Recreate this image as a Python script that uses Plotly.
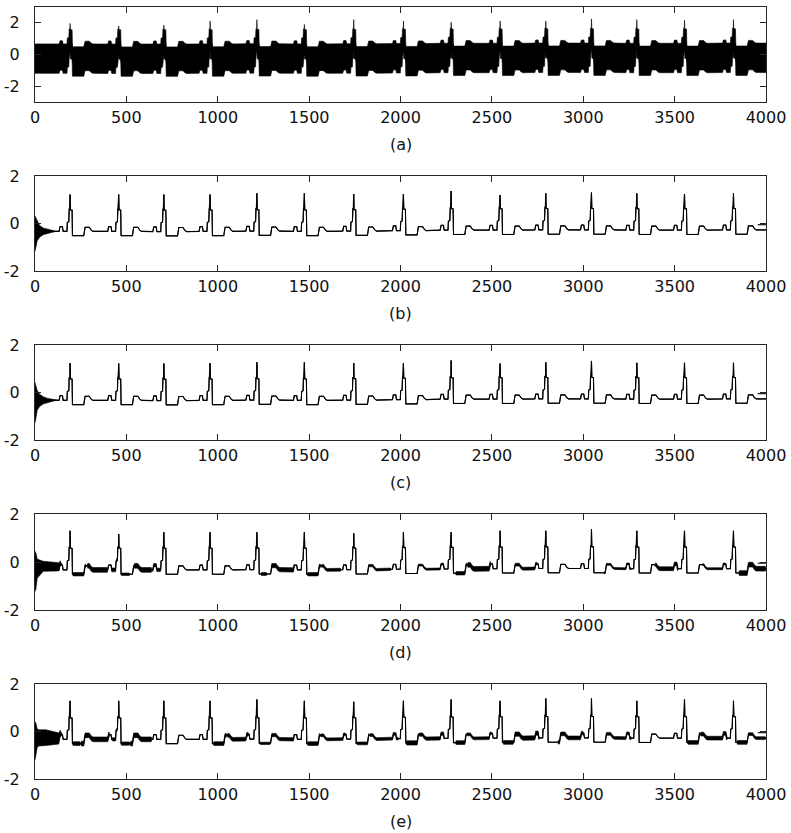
import numpy as np
import plotly.graph_objects as go

# ---------------- data ----------------
x_ticks = [0, 500, 1000, 1500, 2000, 2500, 3000, 3500, 4000]
y_ticks = [-2, 0, 2]
y_tick_text = ["-2", "0", "2"]
captions = ["(a)", "(b)", "(c)", "(d)", "(e)"]

# R-peak sample positions (same beats in every panel)
r_pos = [192, 458, 705, 958, 1214, 1474, 1744, 2016, 2277, 2545, 2795, 3045, 3293, 3554, 3822]

# one-beat shape: offsets from the R peak and levels above the beat baseline
beat_off = [-60, -55, -42, -38, -17, -15, -7, -5, -1, 2, 11, 13, 75, 82, 105, 115, 125]
beat_lvl = [0.0, 0.2, 0.2, 0.0, 0.0, 0.38, 0.4, 0.95, 0.95, 0.9, 0.9, -0.18, -0.18, 0.17, 0.17, 0.05, 0.0]

# per-panel beat baselines
a_base = [-0.26, -0.27, -0.27, -0.26, -0.25, -0.26, -0.25, -0.24, -0.22, -0.22, -0.21, -0.21, -0.22, -0.22, -0.21]
b_base = [-0.33, -0.33, -0.34, -0.33, -0.32, -0.33, -0.32, -0.30, -0.28, -0.28, -0.27, -0.27, -0.28, -0.28, -0.27]
c_base = [-0.33, -0.33, -0.34, -0.33, -0.32, -0.33, -0.32, -0.30, -0.28, -0.28, -0.27, -0.27, -0.28, -0.28, -0.27]
d_base = [-0.33, -0.33, -0.33, -0.33, -0.32, -0.33, -0.32, -0.30, -0.29, -0.28, -0.27, -0.27, -0.28, -0.28, -0.28]
e_base = [-0.33, -0.33, -0.33, -0.33, -0.32, -0.33, -0.32, -0.30, -0.29, -0.28, -0.27, -0.27, -0.28, -0.28, -0.28]

# R-peak heights (panel (a): top of the noisy band)
a_top = [1.96, 1.80, 1.85, 2.12, 2.20, 1.90, 2.20, 2.12, 2.04, 2.12, 2.12, 2.25, 2.20, 2.16, 2.20]
b_R = [1.22, 1.22, 1.22, 1.22, 1.27, 1.27, 1.24, 1.24, 1.37, 1.20, 1.27, 1.30, 1.27, 1.24, 1.27]
c_R = [1.24, 1.22, 1.22, 1.24, 1.27, 1.27, 1.24, 1.24, 1.35, 1.22, 1.27, 1.33, 1.25, 1.25, 1.25]
d_R = [1.30, 1.17, 1.24, 1.24, 1.24, 1.24, 1.20, 1.24, 1.24, 1.30, 1.30, 1.36, 1.30, 1.30, 1.30]
e_R = [1.29, 1.29, 1.29, 1.29, 1.35, 1.29, 1.25, 1.29, 1.35, 1.29, 1.39, 1.39, 1.29, 1.35, 1.29]

# half-width of the dense noise band in (a)
a_noise = 0.93

# start-up transients: sample, upper and lower spread
b_tr_x = [0, 4, 12, 25, 45, 70, 100, 115]
b_tr_up = [0.65, 0.58, 0.40, 0.25, 0.14, 0.08, 0.03, 0.0]
b_tr_dn = [0.85, 0.70, 0.40, 0.25, 0.14, 0.08, 0.03, 0.0]
c_tr_x = [0, 4, 12, 25, 45, 70, 100, 115]
c_tr_up = [0.75, 0.65, 0.42, 0.26, 0.15, 0.08, 0.03, 0.0]
c_tr_dn = [0.95, 0.80, 0.42, 0.26, 0.15, 0.08, 0.03, 0.0]
d_tr_x = [0, 5, 12, 20, 45, 130, 148]
d_tr_up = [0.78, 0.70, 0.45, 0.42, 0.36, 0.30, 0.0]
d_tr_dn = [0.90, 0.80, 0.35, 0.26, 0.06, 0.04, 0.0]
e_tr_x = [0, 5, 12, 20, 60, 130, 148]
e_tr_up = [0.75, 0.68, 0.45, 0.40, 0.40, 0.30, 0.0]
e_tr_dn = [0.88, 0.80, 0.35, 0.28, 0.26, 0.20, 0.0]

# residual-noise stretches in (d) and (e): start, end, half-width
d_noise = [(205, 280, 0.07), (285, 400, 0.10), (415, 450, 0.08), (470, 520, 0.05),
           (540, 640, 0.10), (640, 690, 0.07), (1235, 1270, 0.06), (1290, 1420, 0.09),
           (1490, 1565, 0.07), (1565, 1675, 0.06), (1820, 1950, 0.05), (2090, 2240, 0.04),
           (2300, 2365, 0.07), (2365, 2495, 0.10), (2625, 2750, 0.06), (3110, 3265, 0.04),
           (3390, 3520, 0.08), (3650, 3780, 0.04), (3850, 4000, 0.10)]
e_noise = [(205, 250, 0.08), (250, 410, 0.10), (420, 450, 0.07), (470, 520, 0.07),
           (520, 640, 0.10), (975, 1050, 0.08), (1050, 1170, 0.08), (1230, 1290, 0.05),
           (1290, 1420, 0.07), (1490, 1560, 0.08), (1560, 1700, 0.06), (1760, 1830, 0.06),
           (1830, 1990, 0.06), (2030, 2100, 0.09), (2100, 2240, 0.07), (2300, 2360, 0.08),
           (2360, 2500, 0.06), (2560, 2620, 0.08), (2620, 2760, 0.09), (2860, 3000, 0.08),
           (3120, 3265, 0.06), (3570, 3640, 0.08), (3640, 3790, 0.08), (3840, 3900, 0.08),
           (3900, 4000, 0.06)]

# short flat line drawn at the end of (b)-(e)
tail_x = [3955, 4000]
tail_y = [-0.05, -0.05]

# ---------------- construction ----------------
def centre_line(base, rh):
    xs, ys = [0], [base[0]]
    for i, r in enumerate(r_pos):
        for o, v in zip(beat_off, beat_lvl):
            xs.append(r + o)
            ys.append(base[i] + v)
            if o == -1:
                xs.append(r)
                ys.append(rh[i])
    xs.append(4000)
    ys.append(base[-1])
    return np.array(xs, float), np.array(ys, float)


def band(cx, cy, segs, tx, tup, tdn):
    pts = set(cx.tolist())
    for s, e, w in segs:
        pts.update([s, s + 4, e - 4, e])
    pts.update(tx)
    xs = np.array(sorted(p for p in pts if 0 <= p <= 4000), float)
    yc = np.interp(xs, cx, cy)
    up = np.zeros_like(xs)
    dn = np.zeros_like(xs)
    for s, e, w in segs:
        v = np.interp(xs, [s, s + 4, e - 4, e], [0, w, w, 0], left=0, right=0)
        up = np.maximum(up, v)
        dn = np.maximum(dn, v)
    if tx:
        up = np.maximum(up, np.interp(xs, tx, tup, right=0))
        dn = np.maximum(dn, np.interp(xs, tx, tdn, right=0))
    return xs, yc + up, yc - dn


W, H = 791, 833
tops = [7, 176, 345, 514, 684]
bots = [102, 271, 440, 610, 779]
m_t, m_b = tops[0], H - bots[-1]
ph = H - m_t - m_b

fig = go.Figure()
font = dict(family="DejaVu Sans, Arial", size=16, color="#111111")
yfont = dict(family="DejaVu Sans, Arial", size=16, color="#111111")
axcol = "#262626"

panels = []
a_R = [t - a_noise for t in a_top]
cx, cy = centre_line(a_base, a_R)
panels.append(("a", cx, cy, cx, cy + a_noise, cy - a_noise, [-3, 3], False))
for key, base, rh, segs, tx, tu, td in [
    ("b", b_base, b_R, [], b_tr_x, b_tr_up, b_tr_dn),
    ("c", c_base, c_R, [], c_tr_x, c_tr_up, c_tr_dn),
    ("d", d_base, d_R, d_noise, d_tr_x, d_tr_up, d_tr_dn),
    ("e", e_base, e_R, e_noise, e_tr_x, e_tr_up, e_tr_dn),
]:
    cx, cy = centre_line(base, rh)
    bx, bu, bl = band(cx, cy, segs, tx, tu, td)
    panels.append((key, cx, cy, bx, bu, bl, [-2, 2], True))

layout = dict(
    template="none",
    width=W, height=H, paper_bgcolor="white", plot_bgcolor="white",
    margin=dict(l=35, r=25, t=m_t, b=m_b, autoexpand=False), showlegend=False, font=font,
    annotations=[],
)

for i, (key, cx, cy, bx, bu, bl, yr, tail) in enumerate(panels):
    n = "" if i == 0 else str(i + 1)
    xa, ya = "x" + n, "y" + n
    fig.add_trace(go.Scatter(
        x=np.concatenate([bx, bx[::-1]]), y=np.concatenate([bu, bl[::-1]]),
        fill="toself", fillcolor="black", mode="lines", line=dict(width=0.6, color="black"),
        xaxis=xa, yaxis=ya, hoverinfo="skip"))
    fig.add_trace(go.Scatter(x=cx, y=cy, mode="lines", line=dict(color="black", width=1.1),
                             xaxis=xa, yaxis=ya))
    if tail:
        fig.add_trace(go.Scatter(x=tail_x, y=tail_y, mode="lines",
                                 line=dict(color="black", width=1.1), xaxis=xa, yaxis=ya))
    dom = [(bots[-1] - bots[i]) / ph, (bots[-1] - tops[i]) / ph]
    layout["xaxis" + n] = dict(
        range=[0, 4000], tickvals=x_ticks, ticks="inside", ticklen=6, tickcolor=axcol,
        showline=True, linecolor=axcol, linewidth=1, mirror="ticks", showgrid=False,
        zeroline=False, anchor=ya, tickfont=font, ticklabelstandoff=1, automargin=False)
    layout["yaxis" + n] = dict(
        range=yr, tickvals=y_ticks, ticktext=y_tick_text, ticks="inside", ticklen=6,
        tickcolor=axcol, showline=True, linecolor=axcol, linewidth=1, mirror="ticks",
        showgrid=False, zeroline=False, anchor=xa, domain=dom, tickfont=yfont,
        ticklabelstandoff=11, automargin=False)
    layout["annotations"].append(dict(
        text=captions[i], x=0.5, xref="paper", y=dom[0], yref="paper",
        yanchor="middle", yshift=-42, showarrow=False, font=font))

fig.update_layout(**layout)
fig.write_html("out.html")
